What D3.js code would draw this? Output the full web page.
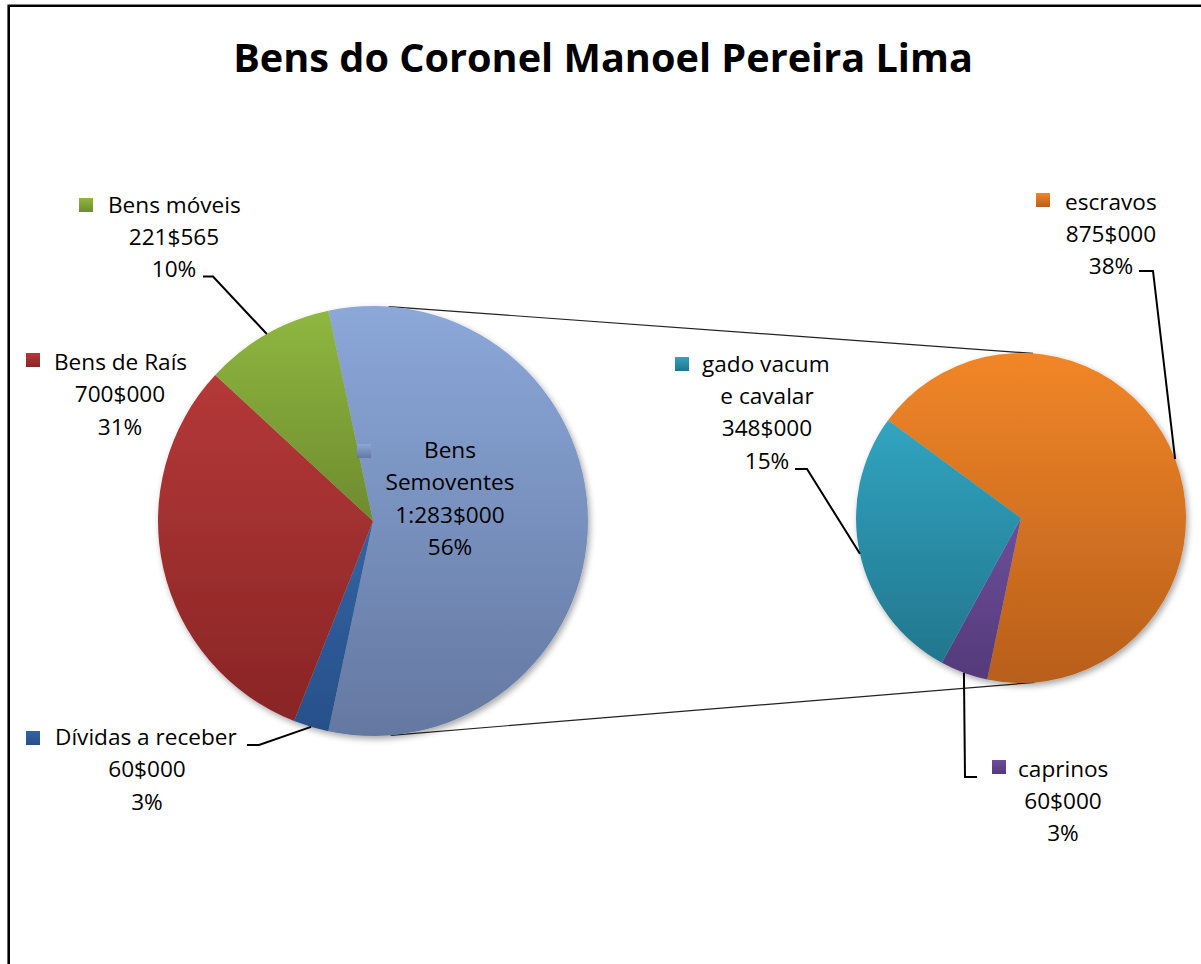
<!DOCTYPE html>
<html>
<head>
<meta charset="utf-8">
<script src="https://cdn.jsdelivr.net/npm/d3@7"></script>
<style>
  body { margin: 0; background: #fff; }
  svg { display: block; }
</style>
</head>
<body>
<svg id="chart" width="1201" height="964"></svg>
<script>
/* global d3 */

const chartTitle = 'Bens do Coronel Manoel Pereira Lima';

// primary pie, clockwise from the split slice
const primaryNames = ['Bens\nSemoventes', 'Dívidas a receber', 'Bens de Raís', 'Bens móveis'];
const primaryValues = [1283, 60, 700, 221.565];
const primaryValueLabels = ['1:283$000', '60$000', '700$000', '221$565'];
const primaryPctLabels = ['56%', '3%', '31%', '10%'];

// secondary pie (the split of "Bens Semoventes")
const secondaryNames = ['escravos', 'caprinos', 'gado vacum\ne cavalar'];
const secondaryValues = [875, 60, 348];
const secondaryValueLabels = ['875$000', '60$000', '348$000'];
const secondaryPctLabels = ['38%', '3%', '15%'];

const primaryColors = [['#8BA8D9', '#6478A1'], ['#3363A3', '#27508A'], ['#B53838', '#892525'], ['#8FB740', '#6E8B2E']];
const secondaryColors = [['#F18628', '#B85F1B'], ['#6D4E9B', '#533A79'], ['#31A4C0', '#22768D']];

const primaryLayout = [
    {key: [357, 444], first: [450, 'middle'], cx: 450, y0: 458, leader: null},
    {key: [26, 731], first: [55, 'start'], cx: 147, y0: 745, leader: [[247, 745], [259, 745]]},
    {key: [26, 353], first: [54, 'start'], cx: 120, y0: 370, leader: null},
    {key: [79, 198], first: [108, 'start'], cx: 174, y0: 212.5, leader: [[203, 276.5], [213, 276.5]]}
];
const secondaryLayout = [
    {key: [1036, 193], first: [1065, 'start'], cx: 1111, y0: 209.5, leader: [[1139, 271], [1153, 271]]},
    {key: [992, 760], first: [1018, 'start'], cx: 1063, y0: 776.5, leader: [[977, 777], [965, 777]]},
    {key: [675, 357], first: [702, 'start'], cx: 767, y0: 371.5, leader: [[795, 469], [807, 469]]}
];

const primaryPie = {cx: 373, cy: 521, r: 215};
const secondaryPie = {cx: 1021, cy: 518, r: 165};
const lineHeight = 32.4;
const labelFont = '"Open Sans", "Liberation Sans", sans-serif';

let svg = d3.select('#chart');
let defs = svg.append('defs');

let shadow = defs.append('filter')
    .attr('id', 'pieShadow')
    .attr('x', '-10%').attr('y', '-10%')
    .attr('width', '120%').attr('height', '120%');
shadow.append('feDropShadow')
    .attr('dx', 2).attr('dy', 3)
    .attr('stdDeviation', 3)
    .attr('flood-color', '#000')
    .attr('flood-opacity', 0.35);

function mkGradient(id, colors) {
    let g = defs.append('linearGradient')
        .attr('id', id)
        .attr('x1', 0).attr('y1', 0)
        .attr('x2', 0).attr('y2', 1);
    g.append('stop').attr('offset', '0%').attr('stop-color', colors[0]);
    g.append('stop').attr('offset', '100%').attr('stop-color', colors[1]);
    return `url(#${id})`;
}

// frame (only top and left edges show in the picture)
svg.append('path')
    .attr('d', 'M8.7,1000 V5.7 H1300')
    .attr('fill', 'none')
    .attr('stroke', '#000')
    .attr('stroke-width', 2.6);

let title = svg.append('text')
    .attr('x', 603)
    .attr('y', 72)
    .attr('text-anchor', 'middle')
    .attr('font-family', '"Open Sans", "Liberation Sans", sans-serif')
    .attr('font-weight', 'bold')
    .attr('font-size', 40)
    .attr('fill', '#000')
    .text(chartTitle);
let titleWidth = title.node().getComputedTextLength();
title.attr('font-size', 40 * 740 / titleWidth);

function tangentLines(a, b) {
    let dx = b.cx - a.cx, dy = b.cy - a.cy;
    let d = Math.hypot(dx, dy);
    let alpha = Math.atan2(dy, dx);
    let beta = Math.acos((a.r - b.r) / d);
    return [-1, 1].map(s => {
        let ang = alpha + s * beta;
        let nx = Math.cos(ang), ny = Math.sin(ang);
        return [[a.cx + a.r * nx, a.cy + a.r * ny], [b.cx + b.r * nx, b.cy + b.r * ny]];
    });
}

svg.selectAll('.connector')
    .data(tangentLines(primaryPie, secondaryPie))
    .enter()
    .append('line')
    .classed('connector', true)
    .attr('x1', d => d[0][0]).attr('y1', d => d[0][1])
    .attr('x2', d => d[1][0]).attr('y2', d => d[1][1])
    .attr('stroke', '#222')
    .attr('stroke-width', 1.2);

function drawPie(spec, values, colors, prefix, startDeg) {
    let pie = d3.pie().sort(null)
        .startAngle(startDeg * Math.PI / 180)
        .endAngle(startDeg * Math.PI / 180 + 2 * Math.PI);
    let arc = d3.arc().innerRadius(0).outerRadius(spec.r);
    let arcs = pie(values);

    svg.append('g')
        .attr('transform', `translate(${spec.cx},${spec.cy})`)
        .attr('filter', 'url(#pieShadow)')
        .selectAll('path')
        .data(arcs)
        .enter()
        .append('path')
        .attr('d', arc)
        .attr('fill', (d, i) => mkGradient(`${prefix}${i}`, colors[i]));

    return arcs;
}

function drawLabels(spec, arcs, names, valueLabels, pctLabels, colors, layout, prefix) {
    let rimArc = d3.arc().innerRadius(spec.r).outerRadius(spec.r);

    arcs.forEach((d, i) => {
        let lay = layout[i];
        let lines = names[i].split('\n').concat([valueLabels[i], pctLabels[i]]);
        let g = svg.append('g').classed('data-label', true);

        g.append('rect')
            .attr('x', lay.key[0]).attr('y', lay.key[1])
            .attr('width', 14).attr('height', 14)
            .attr('fill', mkGradient(`${prefix}key${i}`, colors[i]));

        g.selectAll('text')
            .data(lines)
            .enter()
            .append('text')
            .attr('x', (t, j) => j === 0 ? lay.first[0] : lay.cx)
            .attr('y', (t, j) => lay.y0 + j * lineHeight)
            .attr('text-anchor', (t, j) => j === 0 ? lay.first[1] : 'middle')
            .attr('font-family', labelFont)
            .attr('font-size', 22.6)
            .attr('fill', '#000')
            .text(t => t);

        if (lay.leader) {
            let c = rimArc.centroid(d);
            let pts = lay.leader.concat([[spec.cx + c[0], spec.cy + c[1]]]);
            g.append('path')
                .attr('d', d3.line()(pts))
                .attr('fill', 'none')
                .attr('stroke', '#000')
                .attr('stroke-width', 2);
        }
    });
}

let primaryTotal = d3.sum(primaryValues);
let splitSpan = primaryValues[0] / primaryTotal * 360;
let primaryArcs = drawPie(primaryPie, primaryValues, primaryColors, 'pg', 90 - splitSpan / 2);
let secondaryArcs = drawPie(secondaryPie, secondaryValues, secondaryColors, 'sg', -53.7);

drawLabels(primaryPie, primaryArcs, primaryNames, primaryValueLabels, primaryPctLabels, primaryColors, primaryLayout, 'pl');
drawLabels(secondaryPie, secondaryArcs, secondaryNames, secondaryValueLabels, secondaryPctLabels, secondaryColors, secondaryLayout, 'sl');
</script>
</body>
</html>
